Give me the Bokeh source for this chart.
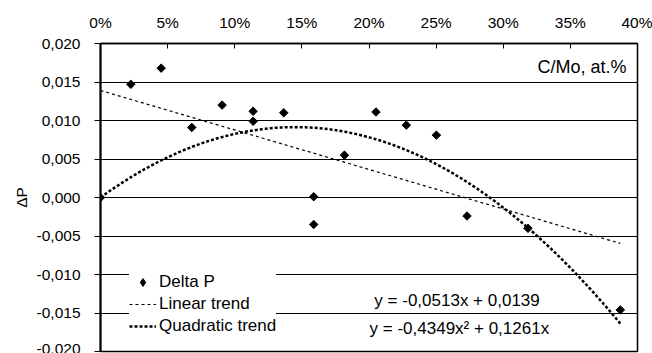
import numpy as np
from bokeh.plotting import figure
from bokeh.models import FixedTicker, Label, Legend, LegendItem, Range1d, CDSView, IndexFilter
from bokeh.embed import file_html
from bokeh.resources import INLINE

# ---- data ----
c_mo = [0.0, 0.0226, 0.0452, 0.0680, 0.0906, 0.1137, 0.1137, 0.1365, 0.1588,
        0.1588, 0.1817, 0.2052, 0.2278, 0.2502, 0.2730, 0.3184, 0.3872]
delta_p = [0.0, 0.0147, 0.0168, 0.0091, 0.0120, 0.0112, 0.0099, 0.0110, 0.0001,
           -0.0035, 0.0055, 0.0111, 0.0094, 0.0081, -0.0024, -0.0040, -0.0146]

# trend equations shown on the chart
lin_slope, lin_icpt = -0.0513, 0.0139
quad_a, quad_b = -0.4349, 0.1261
lin_label = "y = -0,0513x + 0,0139"
quad_label = "y = -0,4349x\u00b2 + 0,1261x"

x_ticks = [0.0, 0.05, 0.10, 0.15, 0.20, 0.25, 0.30, 0.35, 0.40]
x_labels = ["0%", "5%", "10%", "15%", "20%", "25%", "30%", "35%", "40%"]
y_ticks = [-0.020, -0.015, -0.010, -0.005, 0.0, 0.005, 0.010, 0.015, 0.020]
y_labels = ["-0,020", "-0,015", "-0,010", "-0,005", "0,000", "0,005", "0,010", "0,015", "0,020"]

FONT = "Liberation Sans"

p = figure(width=652, height=353, x_range=Range1d(0, 0.40), y_range=Range1d(-0.020, 0.020),
           x_axis_location="above", output_backend="svg", toolbar_location=None,
           min_border_left=100, min_border_right=15, min_border_top=43, min_border_bottom=2)
p.background_fill_color = "white"
p.border_fill_color = "white"
p.outline_line_color = "black"
p.outline_line_width = 1.5

p.xgrid.visible = False
p.ygrid.ticker = FixedTicker(ticks=y_ticks)
p.ygrid.grid_line_color = "black"
p.ygrid.grid_line_width = 1

xa = p.xaxis[0]
xa.ticker = FixedTicker(ticks=x_ticks)
xa.major_label_overrides = dict(zip(x_ticks, x_labels))
xa.major_tick_in = 5
xa.major_tick_out = 0
xa.minor_tick_line_color = None
xa.axis_line_color = "black"
xa.axis_line_width = 1.5
xa.major_tick_line_color = "black"
xa.major_label_text_font = FONT
xa.major_label_text_font_size = "15.5px"
xa.major_label_text_color = "black"
xa.major_label_standoff = 13

ya = p.yaxis[0]
ya.ticker = FixedTicker(ticks=y_ticks)
ya.major_label_overrides = dict(zip(y_ticks, y_labels))
ya.major_tick_in = 0
ya.major_tick_out = 6
ya.minor_tick_line_color = None
ya.axis_line_color = "black"
ya.axis_line_width = 2
ya.major_tick_line_color = "black"
ya.major_label_text_font = FONT
ya.major_label_text_font_size = "15.5px"
ya.major_label_text_color = "black"
ya.major_label_standoff = 14
ya.axis_label = "\u0394P"
ya.axis_label_text_font = FONT
ya.axis_label_text_font_size = "15.5px"
ya.axis_label_text_font_style = "normal"
ya.axis_label_text_color = "black"
ya.axis_label_standoff = 4

# trend lines evaluated from the displayed equations
xt = np.linspace(0, max(c_mo), 120)
lin_y = lin_slope * xt + lin_icpt
quad_y = quad_a * xt ** 2 + quad_b * xt

r_lin = p.line(xt, lin_y, line_color="black", line_width=1.2, line_dash="3 3")
r_quad = p.line(xt, quad_y, line_color="black", line_width=2.5, line_dash="3 2")
r_pts = p.scatter(c_mo, delta_p, marker="square", angle=np.pi / 4, size=6,
                  fill_color="black", line_color="black")
# diamond-marker renderer used as the legend key (shows only the first point,
# hidden inside the rotated-square marker drawn there)
r_key = p.scatter(c_mo, delta_p, marker="diamond", size=6,
                  fill_color="black", line_color="black",
                  view=CDSView(filter=IndexFilter(indices=[0])))

legend = Legend(items=[LegendItem(label="Delta P", renderers=[r_key], index=0),
                       LegendItem(label="Linear trend", renderers=[r_lin]),
                       LegendItem(label="Quadratic trend", renderers=[r_quad])],
                location=(29, 15))
legend.background_fill_color = "white"
legend.background_fill_alpha = 1
legend.border_line_color = None
legend.padding = 6
legend.spacing = 2
legend.margin = 0
legend.glyph_width = 27
legend.glyph_height = 20
legend.label_height = 20
legend.label_standoff = 3
legend.label_text_font = FONT
legend.label_text_font_size = "17px"
legend.label_text_color = "black"
p.add_layout(legend)

p.add_layout(Label(x=0.3918, y=0.0170, text="C/Mo, at.%", text_align="right",
                   text_baseline="middle", text_font=FONT, text_font_size="18px",
                   text_color="black"))
p.add_layout(Label(x=0.2656, y=-0.0134, text=lin_label, text_align="center",
                   text_baseline="middle", text_font=FONT, text_font_size="17px",
                   text_color="black"))
p.add_layout(Label(x=0.2673, y=-0.0170, text=quad_label, text_align="center",
                   text_baseline="middle", text_font=FONT, text_font_size="17px",
                   text_color="black"))

open("out.html", "w").write(file_html(p, INLINE))
